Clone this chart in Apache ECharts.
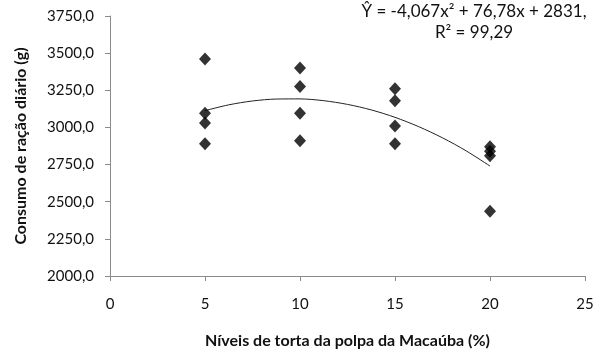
<!DOCTYPE html>
<html>
<head>
<meta charset="utf-8">
<script src="https://cdn.jsdelivr.net/npm/echarts@6/dist/echarts.min.js"></script>
<style>
  html, body { margin: 0; padding: 0; background: #fff; }
  #main { width: 600px; height: 354px; }
</style>
</head>
<body>
<div id="main"></div>
<script>
// níveis de torta (%) e consumo observado (g)
var niveis = [5, 5, 5, 5, 10, 10, 10, 10, 15, 15, 15, 15, 20, 20, 20, 20];
var consumo = [3460, 3095, 3030, 2890, 3400, 3275, 3095, 2910, 3260, 3180, 3010, 2890, 2870, 2840, 2810, 2435];

// curva ajustada
var curvaX = [5, 6.25, 7.5, 8.75, 10, 11.25, 12.5, 13.75, 15, 16.25, 17.5, 18.75, 20];
var curvaY = [3113, 3152, 3178, 3191, 3192, 3180, 3155, 3118, 3068, 3005, 2930, 2842, 2740];

var eixoY = { min: 2000, max: 3750, interval: 250 };
var eixoX = { min: 0, max: 25, interval: 5 };

var chart = echarts.init(document.getElementById('main'));
var fonte = 'Lato, "Open Sans", sans-serif';

chart.setOption({
  animation: false,
  textStyle: { fontFamily: fonte },
  grid: { left: 110, right: 15, top: 16, bottom: 76 },
  graphic: [{
    type: 'text',
    x: 474,
    y: 1,
    style: {
      text: 'Ŷ = -4,067x² + 76,78x + 2831,\nR² = 99,29',
      align: 'center',
      verticalAlign: 'top',
      fontSize: 17,
      lineHeight: 21,
      fill: '#111',
      fontFamily: fonte
    }
  }],
  xAxis: {
    type: 'value',
    min: eixoX.min, max: eixoX.max, interval: eixoX.interval,
    name: 'Níveis de torta da polpa da Macaúba (%)',
    nameLocation: 'middle',
    nameGap: 57,
    nameTextStyle: { fontSize: 16, fontWeight: 'bold', color: '#111' },
    axisLine: { lineStyle: { color: '#8a8a8a' } },
    axisTick: { show: true, length: 5, lineStyle: { color: '#8a8a8a' } },
    axisLabel: { fontSize: 15, color: '#111', margin: 21 },
    splitLine: { show: false }
  },
  yAxis: {
    type: 'value',
    min: eixoY.min, max: eixoY.max, interval: eixoY.interval,
    name: 'Consumo de ração diário (g)',
    nameLocation: 'middle',
    nameGap: 81,
    nameTextStyle: { fontSize: 16, fontWeight: 'bold', color: '#111' },
    axisLine: { show: true, lineStyle: { color: '#8a8a8a' } },
    axisTick: { show: true, length: 5, lineStyle: { color: '#8a8a8a' } },
    axisLabel: {
      fontSize: 15, color: '#111', margin: 16,
      formatter: function (v) { return v.toFixed(1).replace('.', ','); }
    },
    splitLine: { show: false }
  },
  series: [
    {
      type: 'line',
      data: curvaX.map(function (x, i) { return [x, curvaY[i]]; }),
      smooth: 0.3,
      symbol: 'none',
      lineStyle: { color: '#222', width: 1 },
      z: 1
    },
    {
      type: 'scatter',
      data: niveis.map(function (x, i) { return [x, consumo[i]]; }),
      symbol: 'diamond',
      symbolSize: [12, 13],
      itemStyle: { color: '#000' },
      z: 2
    }
  ]
});
</script>
</body>
</html>
